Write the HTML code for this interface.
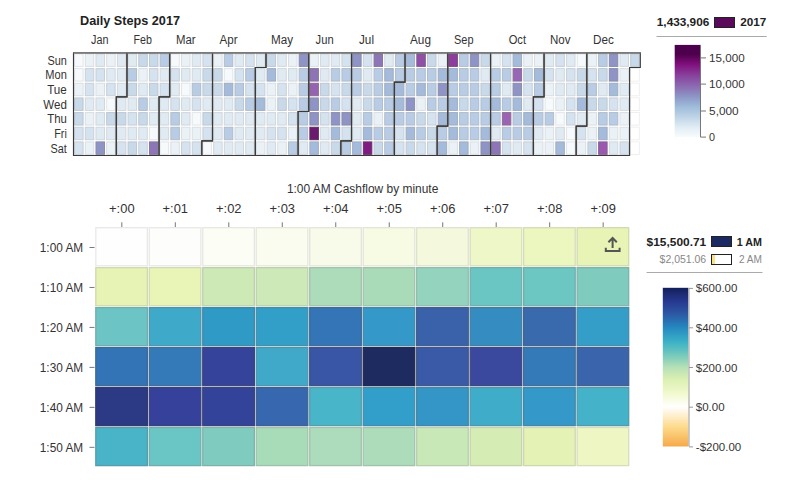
<!DOCTYPE html><html><head><meta charset="utf-8"><style>html,body{margin:0;padding:0;background:#fff;width:800px;height:494px;overflow:hidden}svg{display:block}text{font-family:"Liberation Sans",sans-serif}</style></head><body>
<svg width="800" height="494" viewBox="0 0 800 494">
<rect width="800" height="494" fill="#fff"/>
<text x="80" y="24.8" font-size="12.8" font-weight="bold" fill="#222" text-anchor="start" textLength="100" lengthAdjust="spacingAndGlyphs">Daily Steps 2017</text>
<text x="91" y="44" font-size="12.5" fill="#333" text-anchor="start" textLength="17.4" lengthAdjust="spacingAndGlyphs">Jan</text>
<text x="133.6" y="44" font-size="12.5" fill="#333" text-anchor="start" textLength="18.4" lengthAdjust="spacingAndGlyphs">Feb</text>
<text x="176" y="44" font-size="12.5" fill="#333" text-anchor="start" textLength="19.6" lengthAdjust="spacingAndGlyphs">Mar</text>
<text x="219.5" y="44" font-size="12.5" fill="#333" text-anchor="start" textLength="18.0" lengthAdjust="spacingAndGlyphs">Apr</text>
<text x="271" y="44" font-size="12.5" fill="#333" text-anchor="start" textLength="22" lengthAdjust="spacingAndGlyphs">May</text>
<text x="315.6" y="44" font-size="12.5" fill="#333" text-anchor="start" textLength="18.0" lengthAdjust="spacingAndGlyphs">Jun</text>
<text x="359" y="44" font-size="12.5" fill="#333" text-anchor="start" textLength="15" lengthAdjust="spacingAndGlyphs">Jul</text>
<text x="410" y="44" font-size="12.5" fill="#333" text-anchor="start" textLength="21" lengthAdjust="spacingAndGlyphs">Aug</text>
<text x="454" y="44" font-size="12.5" fill="#333" text-anchor="start" textLength="19.5" lengthAdjust="spacingAndGlyphs">Sep</text>
<text x="508.7" y="44" font-size="12.5" fill="#333" text-anchor="start" textLength="17.3" lengthAdjust="spacingAndGlyphs">Oct</text>
<text x="550" y="44" font-size="12.5" fill="#333" text-anchor="start" textLength="20.5" lengthAdjust="spacingAndGlyphs">Nov</text>
<text x="593" y="44" font-size="12.5" fill="#333" text-anchor="start" textLength="20.8" lengthAdjust="spacingAndGlyphs">Dec</text>
<text x="66.8" y="64.68" font-size="12.3" fill="#333" text-anchor="end" textLength="19.4" lengthAdjust="spacingAndGlyphs">Sun</text>
<text x="66.8" y="79.34" font-size="12.3" fill="#333" text-anchor="end" textLength="21.5" lengthAdjust="spacingAndGlyphs">Mon</text>
<text x="66.8" y="94.0" font-size="12.3" fill="#333" text-anchor="end" textLength="19.6" lengthAdjust="spacingAndGlyphs">Tue</text>
<text x="66.8" y="108.66" font-size="12.3" fill="#333" text-anchor="end" textLength="23.5" lengthAdjust="spacingAndGlyphs">Wed</text>
<text x="66.8" y="123.32" font-size="12.3" fill="#333" text-anchor="end" textLength="19.6" lengthAdjust="spacingAndGlyphs">Thu</text>
<text x="66.8" y="137.98" font-size="12.3" fill="#333" text-anchor="end" textLength="12.6" lengthAdjust="spacingAndGlyphs">Fri</text>
<text x="66.8" y="152.64000000000001" font-size="12.3" fill="#333" text-anchor="end" textLength="16.3" lengthAdjust="spacingAndGlyphs">Sat</text>
<rect x="74.60" y="53.95" width="8.49" height="12.46" fill="#f6fafc" stroke="#e3e5e6" stroke-width="1"/>
<rect x="74.60" y="68.61" width="8.49" height="12.46" fill="#f6fafc" stroke="#e3e5e6" stroke-width="1"/>
<rect x="74.60" y="83.27" width="8.49" height="12.46" fill="#ebf2f7" stroke="#dadee1" stroke-width="1"/>
<rect x="74.60" y="97.93" width="8.49" height="12.46" fill="#c8d9ea" stroke="#bec7d1" stroke-width="1"/>
<rect x="74.60" y="112.59" width="8.49" height="12.46" fill="#c8d9ea" stroke="#bec7d1" stroke-width="1"/>
<rect x="74.60" y="127.25" width="8.49" height="12.46" fill="#d5e2ef" stroke="#c8cfd7" stroke-width="1"/>
<rect x="74.60" y="141.91" width="8.49" height="12.46" fill="#d5e2ef" stroke="#c8cfd7" stroke-width="1"/>
<rect x="85.29" y="53.95" width="8.49" height="12.46" fill="#ebf2f7" stroke="#dadee1" stroke-width="1"/>
<rect x="85.29" y="68.61" width="8.49" height="12.46" fill="#d5e2ef" stroke="#c8cfd7" stroke-width="1"/>
<rect x="85.29" y="83.27" width="8.49" height="12.46" fill="#d5e2ef" stroke="#c8cfd7" stroke-width="1"/>
<rect x="85.29" y="97.93" width="8.49" height="12.46" fill="#e0eaf3" stroke="#d1d7dc" stroke-width="1"/>
<rect x="85.29" y="112.59" width="8.49" height="12.46" fill="#ebf2f7" stroke="#dadee1" stroke-width="1"/>
<rect x="85.29" y="127.25" width="8.49" height="12.46" fill="#d5e2ef" stroke="#c8cfd7" stroke-width="1"/>
<rect x="85.29" y="141.91" width="8.49" height="12.46" fill="#ebf2f7" stroke="#dadee1" stroke-width="1"/>
<rect x="95.99" y="53.95" width="8.49" height="12.46" fill="#e0eaf3" stroke="#d1d7dc" stroke-width="1"/>
<rect x="95.99" y="68.61" width="8.49" height="12.46" fill="#d5e2ef" stroke="#c8cfd7" stroke-width="1"/>
<rect x="95.99" y="83.27" width="8.49" height="12.46" fill="#ebf2f7" stroke="#dadee1" stroke-width="1"/>
<rect x="95.99" y="97.93" width="8.49" height="12.46" fill="#e0eaf3" stroke="#d1d7dc" stroke-width="1"/>
<rect x="95.99" y="112.59" width="8.49" height="12.46" fill="#e0eaf3" stroke="#d1d7dc" stroke-width="1"/>
<rect x="95.99" y="127.25" width="8.49" height="12.46" fill="#e0eaf3" stroke="#d1d7dc" stroke-width="1"/>
<rect x="95.99" y="141.91" width="8.49" height="12.46" fill="#8e94c6" stroke="#8a8da9" stroke-width="1"/>
<rect x="106.68" y="53.95" width="8.49" height="12.46" fill="#ebf2f7" stroke="#dadee1" stroke-width="1"/>
<rect x="106.68" y="68.61" width="8.49" height="12.46" fill="#e0eaf3" stroke="#d1d7dc" stroke-width="1"/>
<rect x="106.68" y="83.27" width="8.49" height="12.46" fill="#d5e2ef" stroke="#c8cfd7" stroke-width="1"/>
<rect x="106.68" y="97.93" width="8.49" height="12.46" fill="#f6fafc" stroke="#e3e5e6" stroke-width="1"/>
<rect x="106.68" y="112.59" width="8.49" height="12.46" fill="#c8d9ea" stroke="#bec7d1" stroke-width="1"/>
<rect x="106.68" y="127.25" width="8.49" height="12.46" fill="#e0eaf3" stroke="#d1d7dc" stroke-width="1"/>
<rect x="106.68" y="141.91" width="8.49" height="12.46" fill="#ebf2f7" stroke="#dadee1" stroke-width="1"/>
<rect x="117.38" y="53.95" width="8.49" height="12.46" fill="#e0eaf3" stroke="#d1d7dc" stroke-width="1"/>
<rect x="117.38" y="68.61" width="8.49" height="12.46" fill="#e0eaf3" stroke="#d1d7dc" stroke-width="1"/>
<rect x="117.38" y="83.27" width="8.49" height="12.46" fill="#e0eaf3" stroke="#d1d7dc" stroke-width="1"/>
<rect x="117.38" y="97.93" width="8.49" height="12.46" fill="#e0eaf3" stroke="#d1d7dc" stroke-width="1"/>
<rect x="117.38" y="112.59" width="8.49" height="12.46" fill="#c8d9ea" stroke="#bec7d1" stroke-width="1"/>
<rect x="117.38" y="127.25" width="8.49" height="12.46" fill="#e0eaf3" stroke="#d1d7dc" stroke-width="1"/>
<rect x="117.38" y="141.91" width="8.49" height="12.46" fill="#d5e2ef" stroke="#c8cfd7" stroke-width="1"/>
<rect x="128.07" y="53.95" width="8.49" height="12.46" fill="#e0eaf3" stroke="#d1d7dc" stroke-width="1"/>
<rect x="128.07" y="68.61" width="8.49" height="12.46" fill="#b8cde5" stroke="#b1bcca" stroke-width="1"/>
<rect x="128.07" y="83.27" width="8.49" height="12.46" fill="#c8d9ea" stroke="#bec7d1" stroke-width="1"/>
<rect x="128.07" y="97.93" width="8.49" height="12.46" fill="#e0eaf3" stroke="#d1d7dc" stroke-width="1"/>
<rect x="128.07" y="112.59" width="8.49" height="12.46" fill="#d5e2ef" stroke="#c8cfd7" stroke-width="1"/>
<rect x="128.07" y="127.25" width="8.49" height="12.46" fill="#e0eaf3" stroke="#d1d7dc" stroke-width="1"/>
<rect x="128.07" y="141.91" width="8.49" height="12.46" fill="#c8d9ea" stroke="#bec7d1" stroke-width="1"/>
<rect x="138.77" y="53.95" width="8.49" height="12.46" fill="#c8d9ea" stroke="#bec7d1" stroke-width="1"/>
<rect x="138.77" y="68.61" width="8.49" height="12.46" fill="#ebf2f7" stroke="#dadee1" stroke-width="1"/>
<rect x="138.77" y="83.27" width="8.49" height="12.46" fill="#e0eaf3" stroke="#d1d7dc" stroke-width="1"/>
<rect x="138.77" y="97.93" width="8.49" height="12.46" fill="#b8cde5" stroke="#b1bcca" stroke-width="1"/>
<rect x="138.77" y="112.59" width="8.49" height="12.46" fill="#c8d9ea" stroke="#bec7d1" stroke-width="1"/>
<rect x="138.77" y="127.25" width="8.49" height="12.46" fill="#e0eaf3" stroke="#d1d7dc" stroke-width="1"/>
<rect x="138.77" y="141.91" width="8.49" height="12.46" fill="#d5e2ef" stroke="#c8cfd7" stroke-width="1"/>
<rect x="149.46" y="53.95" width="8.49" height="12.46" fill="#c8d9ea" stroke="#bec7d1" stroke-width="1"/>
<rect x="149.46" y="68.61" width="8.49" height="12.46" fill="#d5e2ef" stroke="#c8cfd7" stroke-width="1"/>
<rect x="149.46" y="83.27" width="8.49" height="12.46" fill="#c8d9ea" stroke="#bec7d1" stroke-width="1"/>
<rect x="149.46" y="97.93" width="8.49" height="12.46" fill="#e0eaf3" stroke="#d1d7dc" stroke-width="1"/>
<rect x="149.46" y="112.59" width="8.49" height="12.46" fill="#e0eaf3" stroke="#d1d7dc" stroke-width="1"/>
<rect x="149.46" y="127.25" width="8.49" height="12.46" fill="#f6fafc" stroke="#e3e5e6" stroke-width="1"/>
<rect x="149.46" y="141.91" width="8.49" height="12.46" fill="#8d76b7" stroke="#84779b" stroke-width="1"/>
<rect x="160.15" y="53.95" width="8.49" height="12.46" fill="#b8cde5" stroke="#b1bcca" stroke-width="1"/>
<rect x="160.15" y="68.61" width="8.49" height="12.46" fill="#e0eaf3" stroke="#d1d7dc" stroke-width="1"/>
<rect x="160.15" y="83.27" width="8.49" height="12.46" fill="#d5e2ef" stroke="#c8cfd7" stroke-width="1"/>
<rect x="160.15" y="97.93" width="8.49" height="12.46" fill="#e0eaf3" stroke="#d1d7dc" stroke-width="1"/>
<rect x="160.15" y="112.59" width="8.49" height="12.46" fill="#e0eaf3" stroke="#d1d7dc" stroke-width="1"/>
<rect x="160.15" y="127.25" width="8.49" height="12.46" fill="#e0eaf3" stroke="#d1d7dc" stroke-width="1"/>
<rect x="160.15" y="141.91" width="8.49" height="12.46" fill="#f6fafc" stroke="#e3e5e6" stroke-width="1"/>
<rect x="170.85" y="53.95" width="8.49" height="12.46" fill="#f6fafc" stroke="#e3e5e6" stroke-width="1"/>
<rect x="170.85" y="68.61" width="8.49" height="12.46" fill="#d5e2ef" stroke="#c8cfd7" stroke-width="1"/>
<rect x="170.85" y="83.27" width="8.49" height="12.46" fill="#e0eaf3" stroke="#d1d7dc" stroke-width="1"/>
<rect x="170.85" y="97.93" width="8.49" height="12.46" fill="#d5e2ef" stroke="#c8cfd7" stroke-width="1"/>
<rect x="170.85" y="112.59" width="8.49" height="12.46" fill="#b8cde5" stroke="#b1bcca" stroke-width="1"/>
<rect x="170.85" y="127.25" width="8.49" height="12.46" fill="#b8cde5" stroke="#b1bcca" stroke-width="1"/>
<rect x="170.85" y="141.91" width="8.49" height="12.46" fill="#ebf2f7" stroke="#dadee1" stroke-width="1"/>
<rect x="181.54" y="53.95" width="8.49" height="12.46" fill="#ebf2f7" stroke="#dadee1" stroke-width="1"/>
<rect x="181.54" y="68.61" width="8.49" height="12.46" fill="#e0eaf3" stroke="#d1d7dc" stroke-width="1"/>
<rect x="181.54" y="83.27" width="8.49" height="12.46" fill="#f6fafc" stroke="#e3e5e6" stroke-width="1"/>
<rect x="181.54" y="97.93" width="8.49" height="12.46" fill="#e0eaf3" stroke="#d1d7dc" stroke-width="1"/>
<rect x="181.54" y="112.59" width="8.49" height="12.46" fill="#e0eaf3" stroke="#d1d7dc" stroke-width="1"/>
<rect x="181.54" y="127.25" width="8.49" height="12.46" fill="#ebf2f7" stroke="#dadee1" stroke-width="1"/>
<rect x="181.54" y="141.91" width="8.49" height="12.46" fill="#d5e2ef" stroke="#c8cfd7" stroke-width="1"/>
<rect x="192.24" y="53.95" width="8.49" height="12.46" fill="#e0eaf3" stroke="#d1d7dc" stroke-width="1"/>
<rect x="192.24" y="68.61" width="8.49" height="12.46" fill="#e0eaf3" stroke="#d1d7dc" stroke-width="1"/>
<rect x="192.24" y="83.27" width="8.49" height="12.46" fill="#b8cde5" stroke="#b1bcca" stroke-width="1"/>
<rect x="192.24" y="97.93" width="8.49" height="12.46" fill="#d5e2ef" stroke="#c8cfd7" stroke-width="1"/>
<rect x="192.24" y="112.59" width="8.49" height="12.46" fill="#f6fafc" stroke="#e3e5e6" stroke-width="1"/>
<rect x="192.24" y="127.25" width="8.49" height="12.46" fill="#ebf2f7" stroke="#dadee1" stroke-width="1"/>
<rect x="192.24" y="141.91" width="8.49" height="12.46" fill="#d5e2ef" stroke="#c8cfd7" stroke-width="1"/>
<rect x="202.93" y="53.95" width="8.49" height="12.46" fill="#d5e2ef" stroke="#c8cfd7" stroke-width="1"/>
<rect x="202.93" y="68.61" width="8.49" height="12.46" fill="#c8d9ea" stroke="#bec7d1" stroke-width="1"/>
<rect x="202.93" y="83.27" width="8.49" height="12.46" fill="#c8d9ea" stroke="#bec7d1" stroke-width="1"/>
<rect x="202.93" y="97.93" width="8.49" height="12.46" fill="#e0eaf3" stroke="#d1d7dc" stroke-width="1"/>
<rect x="202.93" y="112.59" width="8.49" height="12.46" fill="#c8d9ea" stroke="#bec7d1" stroke-width="1"/>
<rect x="202.93" y="127.25" width="8.49" height="12.46" fill="#d5e2ef" stroke="#c8cfd7" stroke-width="1"/>
<rect x="202.93" y="141.91" width="8.49" height="12.46" fill="#f6fafc" stroke="#e3e5e6" stroke-width="1"/>
<rect x="213.63" y="53.95" width="8.49" height="12.46" fill="#ebf2f7" stroke="#dadee1" stroke-width="1"/>
<rect x="213.63" y="68.61" width="8.49" height="12.46" fill="#c8d9ea" stroke="#bec7d1" stroke-width="1"/>
<rect x="213.63" y="83.27" width="8.49" height="12.46" fill="#c8d9ea" stroke="#bec7d1" stroke-width="1"/>
<rect x="213.63" y="97.93" width="8.49" height="12.46" fill="#e0eaf3" stroke="#d1d7dc" stroke-width="1"/>
<rect x="213.63" y="112.59" width="8.49" height="12.46" fill="#e0eaf3" stroke="#d1d7dc" stroke-width="1"/>
<rect x="213.63" y="127.25" width="8.49" height="12.46" fill="#e0eaf3" stroke="#d1d7dc" stroke-width="1"/>
<rect x="213.63" y="141.91" width="8.49" height="12.46" fill="#e0eaf3" stroke="#d1d7dc" stroke-width="1"/>
<rect x="224.32" y="53.95" width="8.49" height="12.46" fill="#b8cde5" stroke="#b1bcca" stroke-width="1"/>
<rect x="224.32" y="68.61" width="8.49" height="12.46" fill="#f6fafc" stroke="#e3e5e6" stroke-width="1"/>
<rect x="224.32" y="83.27" width="8.49" height="12.46" fill="#a4bbdc" stroke="#a0adbf" stroke-width="1"/>
<rect x="224.32" y="97.93" width="8.49" height="12.46" fill="#e0eaf3" stroke="#d1d7dc" stroke-width="1"/>
<rect x="224.32" y="112.59" width="8.49" height="12.46" fill="#e0eaf3" stroke="#d1d7dc" stroke-width="1"/>
<rect x="224.32" y="127.25" width="8.49" height="12.46" fill="#b8cde5" stroke="#b1bcca" stroke-width="1"/>
<rect x="224.32" y="141.91" width="8.49" height="12.46" fill="#e0eaf3" stroke="#d1d7dc" stroke-width="1"/>
<rect x="235.02" y="53.95" width="8.49" height="12.46" fill="#e0eaf3" stroke="#d1d7dc" stroke-width="1"/>
<rect x="235.02" y="68.61" width="8.49" height="12.46" fill="#d5e2ef" stroke="#c8cfd7" stroke-width="1"/>
<rect x="235.02" y="83.27" width="8.49" height="12.46" fill="#b8cde5" stroke="#b1bcca" stroke-width="1"/>
<rect x="235.02" y="97.93" width="8.49" height="12.46" fill="#c8d9ea" stroke="#bec7d1" stroke-width="1"/>
<rect x="235.02" y="112.59" width="8.49" height="12.46" fill="#e0eaf3" stroke="#d1d7dc" stroke-width="1"/>
<rect x="235.02" y="127.25" width="8.49" height="12.46" fill="#e0eaf3" stroke="#d1d7dc" stroke-width="1"/>
<rect x="235.02" y="141.91" width="8.49" height="12.46" fill="#e0eaf3" stroke="#d1d7dc" stroke-width="1"/>
<rect x="245.71" y="53.95" width="8.49" height="12.46" fill="#d5e2ef" stroke="#c8cfd7" stroke-width="1"/>
<rect x="245.71" y="68.61" width="8.49" height="12.46" fill="#b8cde5" stroke="#b1bcca" stroke-width="1"/>
<rect x="245.71" y="83.27" width="8.49" height="12.46" fill="#d5e2ef" stroke="#c8cfd7" stroke-width="1"/>
<rect x="245.71" y="97.93" width="8.49" height="12.46" fill="#b8cde5" stroke="#b1bcca" stroke-width="1"/>
<rect x="245.71" y="112.59" width="8.49" height="12.46" fill="#e0eaf3" stroke="#d1d7dc" stroke-width="1"/>
<rect x="245.71" y="127.25" width="8.49" height="12.46" fill="#e0eaf3" stroke="#d1d7dc" stroke-width="1"/>
<rect x="245.71" y="141.91" width="8.49" height="12.46" fill="#e0eaf3" stroke="#d1d7dc" stroke-width="1"/>
<rect x="256.40" y="53.95" width="8.49" height="12.46" fill="#e0eaf3" stroke="#d1d7dc" stroke-width="1"/>
<rect x="256.40" y="68.61" width="8.49" height="12.46" fill="#e0eaf3" stroke="#d1d7dc" stroke-width="1"/>
<rect x="256.40" y="83.27" width="8.49" height="12.46" fill="#d5e2ef" stroke="#c8cfd7" stroke-width="1"/>
<rect x="256.40" y="97.93" width="8.49" height="12.46" fill="#a4bbdc" stroke="#a0adbf" stroke-width="1"/>
<rect x="256.40" y="112.59" width="8.49" height="12.46" fill="#e0eaf3" stroke="#d1d7dc" stroke-width="1"/>
<rect x="256.40" y="127.25" width="8.49" height="12.46" fill="#e0eaf3" stroke="#d1d7dc" stroke-width="1"/>
<rect x="256.40" y="141.91" width="8.49" height="12.46" fill="#ebf2f7" stroke="#dadee1" stroke-width="1"/>
<rect x="267.10" y="53.95" width="8.49" height="12.46" fill="#c8d9ea" stroke="#bec7d1" stroke-width="1"/>
<rect x="267.10" y="68.61" width="8.49" height="12.46" fill="#a4bbdc" stroke="#a0adbf" stroke-width="1"/>
<rect x="267.10" y="83.27" width="8.49" height="12.46" fill="#ebf2f7" stroke="#dadee1" stroke-width="1"/>
<rect x="267.10" y="97.93" width="8.49" height="12.46" fill="#ebf2f7" stroke="#dadee1" stroke-width="1"/>
<rect x="267.10" y="112.59" width="8.49" height="12.46" fill="#e0eaf3" stroke="#d1d7dc" stroke-width="1"/>
<rect x="267.10" y="127.25" width="8.49" height="12.46" fill="#d5e2ef" stroke="#c8cfd7" stroke-width="1"/>
<rect x="267.10" y="141.91" width="8.49" height="12.46" fill="#e0eaf3" stroke="#d1d7dc" stroke-width="1"/>
<rect x="277.79" y="53.95" width="8.49" height="12.46" fill="#e0eaf3" stroke="#d1d7dc" stroke-width="1"/>
<rect x="277.79" y="68.61" width="8.49" height="12.46" fill="#e0eaf3" stroke="#d1d7dc" stroke-width="1"/>
<rect x="277.79" y="83.27" width="8.49" height="12.46" fill="#d5e2ef" stroke="#c8cfd7" stroke-width="1"/>
<rect x="277.79" y="97.93" width="8.49" height="12.46" fill="#c8d9ea" stroke="#bec7d1" stroke-width="1"/>
<rect x="277.79" y="112.59" width="8.49" height="12.46" fill="#e0eaf3" stroke="#d1d7dc" stroke-width="1"/>
<rect x="277.79" y="127.25" width="8.49" height="12.46" fill="#d5e2ef" stroke="#c8cfd7" stroke-width="1"/>
<rect x="277.79" y="141.91" width="8.49" height="12.46" fill="#ebf2f7" stroke="#dadee1" stroke-width="1"/>
<rect x="288.49" y="53.95" width="8.49" height="12.46" fill="#ebf2f7" stroke="#dadee1" stroke-width="1"/>
<rect x="288.49" y="68.61" width="8.49" height="12.46" fill="#e0eaf3" stroke="#d1d7dc" stroke-width="1"/>
<rect x="288.49" y="83.27" width="8.49" height="12.46" fill="#ebf2f7" stroke="#dadee1" stroke-width="1"/>
<rect x="288.49" y="97.93" width="8.49" height="12.46" fill="#d5e2ef" stroke="#c8cfd7" stroke-width="1"/>
<rect x="288.49" y="112.59" width="8.49" height="12.46" fill="#d5e2ef" stroke="#c8cfd7" stroke-width="1"/>
<rect x="288.49" y="127.25" width="8.49" height="12.46" fill="#ebf2f7" stroke="#dadee1" stroke-width="1"/>
<rect x="288.49" y="141.91" width="8.49" height="12.46" fill="#b8cde5" stroke="#b1bcca" stroke-width="1"/>
<rect x="299.18" y="53.95" width="8.49" height="12.46" fill="#8e94c6" stroke="#8a8da9" stroke-width="1"/>
<rect x="299.18" y="68.61" width="8.49" height="12.46" fill="#b8cde5" stroke="#b1bcca" stroke-width="1"/>
<rect x="299.18" y="83.27" width="8.49" height="12.46" fill="#b8cde5" stroke="#b1bcca" stroke-width="1"/>
<rect x="299.18" y="97.93" width="8.49" height="12.46" fill="#b8cde5" stroke="#b1bcca" stroke-width="1"/>
<rect x="299.18" y="112.59" width="8.49" height="12.46" fill="#b8cde5" stroke="#b1bcca" stroke-width="1"/>
<rect x="299.18" y="127.25" width="8.49" height="12.46" fill="#b8cde5" stroke="#b1bcca" stroke-width="1"/>
<rect x="299.18" y="141.91" width="8.49" height="12.46" fill="#e0eaf3" stroke="#d1d7dc" stroke-width="1"/>
<rect x="309.88" y="53.95" width="8.49" height="12.46" fill="#ebf2f7" stroke="#dadee1" stroke-width="1"/>
<rect x="309.88" y="68.61" width="8.49" height="12.46" fill="#8e73b6" stroke="#84759a" stroke-width="1"/>
<rect x="309.88" y="83.27" width="8.49" height="12.46" fill="#9663b0" stroke="#866a95" stroke-width="1"/>
<rect x="309.88" y="97.93" width="8.49" height="12.46" fill="#8e94c6" stroke="#8a8da9" stroke-width="1"/>
<rect x="309.88" y="112.59" width="8.49" height="12.46" fill="#8e94c6" stroke="#8a8da9" stroke-width="1"/>
<rect x="309.88" y="127.25" width="8.49" height="12.46" fill="#6c1a70" stroke="#592c5c" stroke-width="1"/>
<rect x="309.88" y="141.91" width="8.49" height="12.46" fill="#a4bbdc" stroke="#a0adbf" stroke-width="1"/>
<rect x="320.57" y="53.95" width="8.49" height="12.46" fill="#e0eaf3" stroke="#d1d7dc" stroke-width="1"/>
<rect x="320.57" y="68.61" width="8.49" height="12.46" fill="#e0eaf3" stroke="#d1d7dc" stroke-width="1"/>
<rect x="320.57" y="83.27" width="8.49" height="12.46" fill="#c8d9ea" stroke="#bec7d1" stroke-width="1"/>
<rect x="320.57" y="97.93" width="8.49" height="12.46" fill="#c8d9ea" stroke="#bec7d1" stroke-width="1"/>
<rect x="320.57" y="112.59" width="8.49" height="12.46" fill="#d5e2ef" stroke="#c8cfd7" stroke-width="1"/>
<rect x="320.57" y="127.25" width="8.49" height="12.46" fill="#e0eaf3" stroke="#d1d7dc" stroke-width="1"/>
<rect x="320.57" y="141.91" width="8.49" height="12.46" fill="#e0eaf3" stroke="#d1d7dc" stroke-width="1"/>
<rect x="331.26" y="53.95" width="8.49" height="12.46" fill="#e0eaf3" stroke="#d1d7dc" stroke-width="1"/>
<rect x="331.26" y="68.61" width="8.49" height="12.46" fill="#b8cde5" stroke="#b1bcca" stroke-width="1"/>
<rect x="331.26" y="83.27" width="8.49" height="12.46" fill="#d5e2ef" stroke="#c8cfd7" stroke-width="1"/>
<rect x="331.26" y="97.93" width="8.49" height="12.46" fill="#b8cde5" stroke="#b1bcca" stroke-width="1"/>
<rect x="331.26" y="112.59" width="8.49" height="12.46" fill="#8e94c6" stroke="#8a8da9" stroke-width="1"/>
<rect x="331.26" y="127.25" width="8.49" height="12.46" fill="#a4bbdc" stroke="#a0adbf" stroke-width="1"/>
<rect x="331.26" y="141.91" width="8.49" height="12.46" fill="#c8d9ea" stroke="#bec7d1" stroke-width="1"/>
<rect x="341.96" y="53.95" width="8.49" height="12.46" fill="#d5e2ef" stroke="#c8cfd7" stroke-width="1"/>
<rect x="341.96" y="68.61" width="8.49" height="12.46" fill="#b8cde5" stroke="#b1bcca" stroke-width="1"/>
<rect x="341.96" y="83.27" width="8.49" height="12.46" fill="#c8d9ea" stroke="#bec7d1" stroke-width="1"/>
<rect x="341.96" y="97.93" width="8.49" height="12.46" fill="#d5e2ef" stroke="#c8cfd7" stroke-width="1"/>
<rect x="341.96" y="112.59" width="8.49" height="12.46" fill="#8e94c6" stroke="#8a8da9" stroke-width="1"/>
<rect x="341.96" y="127.25" width="8.49" height="12.46" fill="#d5e2ef" stroke="#c8cfd7" stroke-width="1"/>
<rect x="341.96" y="141.91" width="8.49" height="12.46" fill="#b8cde5" stroke="#b1bcca" stroke-width="1"/>
<rect x="352.65" y="53.95" width="8.49" height="12.46" fill="#8e94c6" stroke="#8a8da9" stroke-width="1"/>
<rect x="352.65" y="68.61" width="8.49" height="12.46" fill="#b8cde5" stroke="#b1bcca" stroke-width="1"/>
<rect x="352.65" y="83.27" width="8.49" height="12.46" fill="#b8cde5" stroke="#b1bcca" stroke-width="1"/>
<rect x="352.65" y="97.93" width="8.49" height="12.46" fill="#e0eaf3" stroke="#d1d7dc" stroke-width="1"/>
<rect x="352.65" y="112.59" width="8.49" height="12.46" fill="#e0eaf3" stroke="#d1d7dc" stroke-width="1"/>
<rect x="352.65" y="127.25" width="8.49" height="12.46" fill="#e0eaf3" stroke="#d1d7dc" stroke-width="1"/>
<rect x="352.65" y="141.91" width="8.49" height="12.46" fill="#a4bbdc" stroke="#a0adbf" stroke-width="1"/>
<rect x="363.35" y="53.95" width="8.49" height="12.46" fill="#d5e2ef" stroke="#c8cfd7" stroke-width="1"/>
<rect x="363.35" y="68.61" width="8.49" height="12.46" fill="#e0eaf3" stroke="#d1d7dc" stroke-width="1"/>
<rect x="363.35" y="83.27" width="8.49" height="12.46" fill="#c8d9ea" stroke="#bec7d1" stroke-width="1"/>
<rect x="363.35" y="97.93" width="8.49" height="12.46" fill="#c8d9ea" stroke="#bec7d1" stroke-width="1"/>
<rect x="363.35" y="112.59" width="8.49" height="12.46" fill="#b8cde5" stroke="#b1bcca" stroke-width="1"/>
<rect x="363.35" y="127.25" width="8.49" height="12.46" fill="#a4bbdc" stroke="#a0adbf" stroke-width="1"/>
<rect x="363.35" y="141.91" width="8.49" height="12.46" fill="#7f1c82" stroke="#69326a" stroke-width="1"/>
<rect x="374.04" y="53.95" width="8.49" height="12.46" fill="#8d76b7" stroke="#84779b" stroke-width="1"/>
<rect x="374.04" y="68.61" width="8.49" height="12.46" fill="#b8cde5" stroke="#b1bcca" stroke-width="1"/>
<rect x="374.04" y="83.27" width="8.49" height="12.46" fill="#b8cde5" stroke="#b1bcca" stroke-width="1"/>
<rect x="374.04" y="97.93" width="8.49" height="12.46" fill="#b8cde5" stroke="#b1bcca" stroke-width="1"/>
<rect x="374.04" y="112.59" width="8.49" height="12.46" fill="#ebf2f7" stroke="#dadee1" stroke-width="1"/>
<rect x="374.04" y="127.25" width="8.49" height="12.46" fill="#b8cde5" stroke="#b1bcca" stroke-width="1"/>
<rect x="374.04" y="141.91" width="8.49" height="12.46" fill="#c8d9ea" stroke="#bec7d1" stroke-width="1"/>
<rect x="384.74" y="53.95" width="8.49" height="12.46" fill="#e0eaf3" stroke="#d1d7dc" stroke-width="1"/>
<rect x="384.74" y="68.61" width="8.49" height="12.46" fill="#a4bbdc" stroke="#a0adbf" stroke-width="1"/>
<rect x="384.74" y="83.27" width="8.49" height="12.46" fill="#a4bbdc" stroke="#a0adbf" stroke-width="1"/>
<rect x="384.74" y="97.93" width="8.49" height="12.46" fill="#b8cde5" stroke="#b1bcca" stroke-width="1"/>
<rect x="384.74" y="112.59" width="8.49" height="12.46" fill="#b8cde5" stroke="#b1bcca" stroke-width="1"/>
<rect x="384.74" y="127.25" width="8.49" height="12.46" fill="#b8cde5" stroke="#b1bcca" stroke-width="1"/>
<rect x="384.74" y="141.91" width="8.49" height="12.46" fill="#b8cde5" stroke="#b1bcca" stroke-width="1"/>
<rect x="395.43" y="53.95" width="8.49" height="12.46" fill="#b8cde5" stroke="#b1bcca" stroke-width="1"/>
<rect x="395.43" y="68.61" width="8.49" height="12.46" fill="#b8cde5" stroke="#b1bcca" stroke-width="1"/>
<rect x="395.43" y="83.27" width="8.49" height="12.46" fill="#a4bbdc" stroke="#a0adbf" stroke-width="1"/>
<rect x="395.43" y="97.93" width="8.49" height="12.46" fill="#a4bbdc" stroke="#a0adbf" stroke-width="1"/>
<rect x="395.43" y="112.59" width="8.49" height="12.46" fill="#b8cde5" stroke="#b1bcca" stroke-width="1"/>
<rect x="395.43" y="127.25" width="8.49" height="12.46" fill="#d5e2ef" stroke="#c8cfd7" stroke-width="1"/>
<rect x="395.43" y="141.91" width="8.49" height="12.46" fill="#d5e2ef" stroke="#c8cfd7" stroke-width="1"/>
<rect x="406.12" y="53.95" width="8.49" height="12.46" fill="#a4bbdc" stroke="#a0adbf" stroke-width="1"/>
<rect x="406.12" y="68.61" width="8.49" height="12.46" fill="#b8cde5" stroke="#b1bcca" stroke-width="1"/>
<rect x="406.12" y="83.27" width="8.49" height="12.46" fill="#b8cde5" stroke="#b1bcca" stroke-width="1"/>
<rect x="406.12" y="97.93" width="8.49" height="12.46" fill="#8e94c6" stroke="#8a8da9" stroke-width="1"/>
<rect x="406.12" y="112.59" width="8.49" height="12.46" fill="#b8cde5" stroke="#b1bcca" stroke-width="1"/>
<rect x="406.12" y="127.25" width="8.49" height="12.46" fill="#a4bbdc" stroke="#a0adbf" stroke-width="1"/>
<rect x="406.12" y="141.91" width="8.49" height="12.46" fill="#c8d9ea" stroke="#bec7d1" stroke-width="1"/>
<rect x="416.82" y="53.95" width="8.49" height="12.46" fill="#9050a8" stroke="#7f5c8c" stroke-width="1"/>
<rect x="416.82" y="68.61" width="8.49" height="12.46" fill="#b8cde5" stroke="#b1bcca" stroke-width="1"/>
<rect x="416.82" y="83.27" width="8.49" height="12.46" fill="#a4bbdc" stroke="#a0adbf" stroke-width="1"/>
<rect x="416.82" y="97.93" width="8.49" height="12.46" fill="#ebf2f7" stroke="#dadee1" stroke-width="1"/>
<rect x="416.82" y="112.59" width="8.49" height="12.46" fill="#c8d9ea" stroke="#bec7d1" stroke-width="1"/>
<rect x="416.82" y="127.25" width="8.49" height="12.46" fill="#b8cde5" stroke="#b1bcca" stroke-width="1"/>
<rect x="416.82" y="141.91" width="8.49" height="12.46" fill="#d5e2ef" stroke="#c8cfd7" stroke-width="1"/>
<rect x="427.51" y="53.95" width="8.49" height="12.46" fill="#c8d9ea" stroke="#bec7d1" stroke-width="1"/>
<rect x="427.51" y="68.61" width="8.49" height="12.46" fill="#b8cde5" stroke="#b1bcca" stroke-width="1"/>
<rect x="427.51" y="83.27" width="8.49" height="12.46" fill="#b8cde5" stroke="#b1bcca" stroke-width="1"/>
<rect x="427.51" y="97.93" width="8.49" height="12.46" fill="#b8cde5" stroke="#b1bcca" stroke-width="1"/>
<rect x="427.51" y="112.59" width="8.49" height="12.46" fill="#d5e2ef" stroke="#c8cfd7" stroke-width="1"/>
<rect x="427.51" y="127.25" width="8.49" height="12.46" fill="#c8d9ea" stroke="#bec7d1" stroke-width="1"/>
<rect x="427.51" y="141.91" width="8.49" height="12.46" fill="#d5e2ef" stroke="#c8cfd7" stroke-width="1"/>
<rect x="438.21" y="53.95" width="8.49" height="12.46" fill="#ebf2f7" stroke="#dadee1" stroke-width="1"/>
<rect x="438.21" y="68.61" width="8.49" height="12.46" fill="#a4bbdc" stroke="#a0adbf" stroke-width="1"/>
<rect x="438.21" y="83.27" width="8.49" height="12.46" fill="#8e94c6" stroke="#8a8da9" stroke-width="1"/>
<rect x="438.21" y="97.93" width="8.49" height="12.46" fill="#b8cde5" stroke="#b1bcca" stroke-width="1"/>
<rect x="438.21" y="112.59" width="8.49" height="12.46" fill="#a4bbdc" stroke="#a0adbf" stroke-width="1"/>
<rect x="438.21" y="127.25" width="8.49" height="12.46" fill="#b8cde5" stroke="#b1bcca" stroke-width="1"/>
<rect x="438.21" y="141.91" width="8.49" height="12.46" fill="#a4bbdc" stroke="#a0adbf" stroke-width="1"/>
<rect x="448.90" y="53.95" width="8.49" height="12.46" fill="#8e3c9e" stroke="#7a4d83" stroke-width="1"/>
<rect x="448.90" y="68.61" width="8.49" height="12.46" fill="#a4bbdc" stroke="#a0adbf" stroke-width="1"/>
<rect x="448.90" y="83.27" width="8.49" height="12.46" fill="#b8cde5" stroke="#b1bcca" stroke-width="1"/>
<rect x="448.90" y="97.93" width="8.49" height="12.46" fill="#a4bbdc" stroke="#a0adbf" stroke-width="1"/>
<rect x="448.90" y="112.59" width="8.49" height="12.46" fill="#a4bbdc" stroke="#a0adbf" stroke-width="1"/>
<rect x="448.90" y="127.25" width="8.49" height="12.46" fill="#a4bbdc" stroke="#a0adbf" stroke-width="1"/>
<rect x="448.90" y="141.91" width="8.49" height="12.46" fill="#ebf2f7" stroke="#dadee1" stroke-width="1"/>
<rect x="459.60" y="53.95" width="8.49" height="12.46" fill="#b8cde5" stroke="#b1bcca" stroke-width="1"/>
<rect x="459.60" y="68.61" width="8.49" height="12.46" fill="#b8cde5" stroke="#b1bcca" stroke-width="1"/>
<rect x="459.60" y="83.27" width="8.49" height="12.46" fill="#b8cde5" stroke="#b1bcca" stroke-width="1"/>
<rect x="459.60" y="97.93" width="8.49" height="12.46" fill="#c8d9ea" stroke="#bec7d1" stroke-width="1"/>
<rect x="459.60" y="112.59" width="8.49" height="12.46" fill="#b8cde5" stroke="#b1bcca" stroke-width="1"/>
<rect x="459.60" y="127.25" width="8.49" height="12.46" fill="#b8cde5" stroke="#b1bcca" stroke-width="1"/>
<rect x="459.60" y="141.91" width="8.49" height="12.46" fill="#a4bbdc" stroke="#a0adbf" stroke-width="1"/>
<rect x="470.29" y="53.95" width="8.49" height="12.46" fill="#8e94c6" stroke="#8a8da9" stroke-width="1"/>
<rect x="470.29" y="68.61" width="8.49" height="12.46" fill="#b8cde5" stroke="#b1bcca" stroke-width="1"/>
<rect x="470.29" y="83.27" width="8.49" height="12.46" fill="#b8cde5" stroke="#b1bcca" stroke-width="1"/>
<rect x="470.29" y="97.93" width="8.49" height="12.46" fill="#b8cde5" stroke="#b1bcca" stroke-width="1"/>
<rect x="470.29" y="112.59" width="8.49" height="12.46" fill="#b8cde5" stroke="#b1bcca" stroke-width="1"/>
<rect x="470.29" y="127.25" width="8.49" height="12.46" fill="#b8cde5" stroke="#b1bcca" stroke-width="1"/>
<rect x="470.29" y="141.91" width="8.49" height="12.46" fill="#ebf2f7" stroke="#dadee1" stroke-width="1"/>
<rect x="480.98" y="53.95" width="8.49" height="12.46" fill="#c8d9ea" stroke="#bec7d1" stroke-width="1"/>
<rect x="480.98" y="68.61" width="8.49" height="12.46" fill="#e0eaf3" stroke="#d1d7dc" stroke-width="1"/>
<rect x="480.98" y="83.27" width="8.49" height="12.46" fill="#c8d9ea" stroke="#bec7d1" stroke-width="1"/>
<rect x="480.98" y="97.93" width="8.49" height="12.46" fill="#b8cde5" stroke="#b1bcca" stroke-width="1"/>
<rect x="480.98" y="112.59" width="8.49" height="12.46" fill="#b8cde5" stroke="#b1bcca" stroke-width="1"/>
<rect x="480.98" y="127.25" width="8.49" height="12.46" fill="#a4bbdc" stroke="#a0adbf" stroke-width="1"/>
<rect x="480.98" y="141.91" width="8.49" height="12.46" fill="#8e94c6" stroke="#8a8da9" stroke-width="1"/>
<rect x="491.68" y="53.95" width="8.49" height="12.46" fill="#ebf2f7" stroke="#dadee1" stroke-width="1"/>
<rect x="491.68" y="68.61" width="8.49" height="12.46" fill="#b8cde5" stroke="#b1bcca" stroke-width="1"/>
<rect x="491.68" y="83.27" width="8.49" height="12.46" fill="#b8cde5" stroke="#b1bcca" stroke-width="1"/>
<rect x="491.68" y="97.93" width="8.49" height="12.46" fill="#a4bbdc" stroke="#a0adbf" stroke-width="1"/>
<rect x="491.68" y="112.59" width="8.49" height="12.46" fill="#b8cde5" stroke="#b1bcca" stroke-width="1"/>
<rect x="491.68" y="127.25" width="8.49" height="12.46" fill="#e0eaf3" stroke="#d1d7dc" stroke-width="1"/>
<rect x="491.68" y="141.91" width="8.49" height="12.46" fill="#8d76b7" stroke="#84779b" stroke-width="1"/>
<rect x="502.37" y="53.95" width="8.49" height="12.46" fill="#d5e2ef" stroke="#c8cfd7" stroke-width="1"/>
<rect x="502.37" y="68.61" width="8.49" height="12.46" fill="#b8cde5" stroke="#b1bcca" stroke-width="1"/>
<rect x="502.37" y="83.27" width="8.49" height="12.46" fill="#e0eaf3" stroke="#d1d7dc" stroke-width="1"/>
<rect x="502.37" y="97.93" width="8.49" height="12.46" fill="#b8cde5" stroke="#b1bcca" stroke-width="1"/>
<rect x="502.37" y="112.59" width="8.49" height="12.46" fill="#9a64b2" stroke="#8a6c97" stroke-width="1"/>
<rect x="502.37" y="127.25" width="8.49" height="12.46" fill="#b8cde5" stroke="#b1bcca" stroke-width="1"/>
<rect x="502.37" y="141.91" width="8.49" height="12.46" fill="#d5e2ef" stroke="#c8cfd7" stroke-width="1"/>
<rect x="513.07" y="53.95" width="8.49" height="12.46" fill="#a4bbdc" stroke="#a0adbf" stroke-width="1"/>
<rect x="513.07" y="68.61" width="8.49" height="12.46" fill="#9866b6" stroke="#896d99" stroke-width="1"/>
<rect x="513.07" y="83.27" width="8.49" height="12.46" fill="#8e94c6" stroke="#8a8da9" stroke-width="1"/>
<rect x="513.07" y="97.93" width="8.49" height="12.46" fill="#a4bbdc" stroke="#a0adbf" stroke-width="1"/>
<rect x="513.07" y="112.59" width="8.49" height="12.46" fill="#b8cde5" stroke="#b1bcca" stroke-width="1"/>
<rect x="513.07" y="127.25" width="8.49" height="12.46" fill="#b8cde5" stroke="#b1bcca" stroke-width="1"/>
<rect x="513.07" y="141.91" width="8.49" height="12.46" fill="#e0eaf3" stroke="#d1d7dc" stroke-width="1"/>
<rect x="523.76" y="53.95" width="8.49" height="12.46" fill="#ebf2f7" stroke="#dadee1" stroke-width="1"/>
<rect x="523.76" y="68.61" width="8.49" height="12.46" fill="#c8d9ea" stroke="#bec7d1" stroke-width="1"/>
<rect x="523.76" y="83.27" width="8.49" height="12.46" fill="#d5e2ef" stroke="#c8cfd7" stroke-width="1"/>
<rect x="523.76" y="97.93" width="8.49" height="12.46" fill="#e0eaf3" stroke="#d1d7dc" stroke-width="1"/>
<rect x="523.76" y="112.59" width="8.49" height="12.46" fill="#a4bbdc" stroke="#a0adbf" stroke-width="1"/>
<rect x="523.76" y="127.25" width="8.49" height="12.46" fill="#b8cde5" stroke="#b1bcca" stroke-width="1"/>
<rect x="523.76" y="141.91" width="8.49" height="12.46" fill="#d5e2ef" stroke="#c8cfd7" stroke-width="1"/>
<rect x="534.46" y="53.95" width="8.49" height="12.46" fill="#ebf2f7" stroke="#dadee1" stroke-width="1"/>
<rect x="534.46" y="68.61" width="8.49" height="12.46" fill="#a4bbdc" stroke="#a0adbf" stroke-width="1"/>
<rect x="534.46" y="83.27" width="8.49" height="12.46" fill="#b8cde5" stroke="#b1bcca" stroke-width="1"/>
<rect x="534.46" y="97.93" width="8.49" height="12.46" fill="#d5e2ef" stroke="#c8cfd7" stroke-width="1"/>
<rect x="534.46" y="112.59" width="8.49" height="12.46" fill="#b8cde5" stroke="#b1bcca" stroke-width="1"/>
<rect x="534.46" y="127.25" width="8.49" height="12.46" fill="#e0eaf3" stroke="#d1d7dc" stroke-width="1"/>
<rect x="534.46" y="141.91" width="8.49" height="12.46" fill="#ebf2f7" stroke="#dadee1" stroke-width="1"/>
<rect x="545.15" y="53.95" width="8.49" height="12.46" fill="#e0eaf3" stroke="#d1d7dc" stroke-width="1"/>
<rect x="545.15" y="68.61" width="8.49" height="12.46" fill="#d5e2ef" stroke="#c8cfd7" stroke-width="1"/>
<rect x="545.15" y="83.27" width="8.49" height="12.46" fill="#ebf2f7" stroke="#dadee1" stroke-width="1"/>
<rect x="545.15" y="97.93" width="8.49" height="12.46" fill="#f6fafc" stroke="#e3e5e6" stroke-width="1"/>
<rect x="545.15" y="112.59" width="8.49" height="12.46" fill="#b8cde5" stroke="#b1bcca" stroke-width="1"/>
<rect x="545.15" y="127.25" width="8.49" height="12.46" fill="#ebf2f7" stroke="#dadee1" stroke-width="1"/>
<rect x="545.15" y="141.91" width="8.49" height="12.46" fill="#ebf2f7" stroke="#dadee1" stroke-width="1"/>
<rect x="555.85" y="53.95" width="8.49" height="12.46" fill="#d5e2ef" stroke="#c8cfd7" stroke-width="1"/>
<rect x="555.85" y="68.61" width="8.49" height="12.46" fill="#e0eaf3" stroke="#d1d7dc" stroke-width="1"/>
<rect x="555.85" y="83.27" width="8.49" height="12.46" fill="#e0eaf3" stroke="#d1d7dc" stroke-width="1"/>
<rect x="555.85" y="97.93" width="8.49" height="12.46" fill="#ebf2f7" stroke="#dadee1" stroke-width="1"/>
<rect x="555.85" y="112.59" width="8.49" height="12.46" fill="#f6fafc" stroke="#e3e5e6" stroke-width="1"/>
<rect x="555.85" y="127.25" width="8.49" height="12.46" fill="#e0eaf3" stroke="#d1d7dc" stroke-width="1"/>
<rect x="555.85" y="141.91" width="8.49" height="12.46" fill="#a4bbdc" stroke="#a0adbf" stroke-width="1"/>
<rect x="566.54" y="53.95" width="8.49" height="12.46" fill="#e0eaf3" stroke="#d1d7dc" stroke-width="1"/>
<rect x="566.54" y="68.61" width="8.49" height="12.46" fill="#d5e2ef" stroke="#c8cfd7" stroke-width="1"/>
<rect x="566.54" y="83.27" width="8.49" height="12.46" fill="#e0eaf3" stroke="#d1d7dc" stroke-width="1"/>
<rect x="566.54" y="97.93" width="8.49" height="12.46" fill="#d5e2ef" stroke="#c8cfd7" stroke-width="1"/>
<rect x="566.54" y="112.59" width="8.49" height="12.46" fill="#d5e2ef" stroke="#c8cfd7" stroke-width="1"/>
<rect x="566.54" y="127.25" width="8.49" height="12.46" fill="#f6fafc" stroke="#e3e5e6" stroke-width="1"/>
<rect x="566.54" y="141.91" width="8.49" height="12.46" fill="#f6fafc" stroke="#e3e5e6" stroke-width="1"/>
<rect x="577.23" y="53.95" width="8.49" height="12.46" fill="#f6fafc" stroke="#e3e5e6" stroke-width="1"/>
<rect x="577.23" y="68.61" width="8.49" height="12.46" fill="#c8d9ea" stroke="#bec7d1" stroke-width="1"/>
<rect x="577.23" y="83.27" width="8.49" height="12.46" fill="#c8d9ea" stroke="#bec7d1" stroke-width="1"/>
<rect x="577.23" y="97.93" width="8.49" height="12.46" fill="#a4bbdc" stroke="#a0adbf" stroke-width="1"/>
<rect x="577.23" y="112.59" width="8.49" height="12.46" fill="#e0eaf3" stroke="#d1d7dc" stroke-width="1"/>
<rect x="577.23" y="127.25" width="8.49" height="12.46" fill="#d5e2ef" stroke="#c8cfd7" stroke-width="1"/>
<rect x="577.23" y="141.91" width="8.49" height="12.46" fill="#ebf2f7" stroke="#dadee1" stroke-width="1"/>
<rect x="587.93" y="53.95" width="8.49" height="12.46" fill="#ebf2f7" stroke="#dadee1" stroke-width="1"/>
<rect x="587.93" y="68.61" width="8.49" height="12.46" fill="#d5e2ef" stroke="#c8cfd7" stroke-width="1"/>
<rect x="587.93" y="83.27" width="8.49" height="12.46" fill="#b8cde5" stroke="#b1bcca" stroke-width="1"/>
<rect x="587.93" y="97.93" width="8.49" height="12.46" fill="#c8d9ea" stroke="#bec7d1" stroke-width="1"/>
<rect x="587.93" y="112.59" width="8.49" height="12.46" fill="#ebf2f7" stroke="#dadee1" stroke-width="1"/>
<rect x="587.93" y="127.25" width="8.49" height="12.46" fill="#ebf2f7" stroke="#dadee1" stroke-width="1"/>
<rect x="587.93" y="141.91" width="8.49" height="12.46" fill="#c8d9ea" stroke="#bec7d1" stroke-width="1"/>
<rect x="598.62" y="53.95" width="8.49" height="12.46" fill="#b8cde5" stroke="#b1bcca" stroke-width="1"/>
<rect x="598.62" y="68.61" width="8.49" height="12.46" fill="#c8d9ea" stroke="#bec7d1" stroke-width="1"/>
<rect x="598.62" y="83.27" width="8.49" height="12.46" fill="#e0eaf3" stroke="#d1d7dc" stroke-width="1"/>
<rect x="598.62" y="97.93" width="8.49" height="12.46" fill="#c8d9ea" stroke="#bec7d1" stroke-width="1"/>
<rect x="598.62" y="112.59" width="8.49" height="12.46" fill="#b8cde5" stroke="#b1bcca" stroke-width="1"/>
<rect x="598.62" y="127.25" width="8.49" height="12.46" fill="#a4bbdc" stroke="#a0adbf" stroke-width="1"/>
<rect x="598.62" y="141.91" width="8.49" height="12.46" fill="#9a58b0" stroke="#886394" stroke-width="1"/>
<rect x="609.32" y="53.95" width="8.49" height="12.46" fill="#8e94c6" stroke="#8a8da9" stroke-width="1"/>
<rect x="609.32" y="68.61" width="8.49" height="12.46" fill="#8e94c6" stroke="#8a8da9" stroke-width="1"/>
<rect x="609.32" y="83.27" width="8.49" height="12.46" fill="#a4bbdc" stroke="#a0adbf" stroke-width="1"/>
<rect x="609.32" y="97.93" width="8.49" height="12.46" fill="#d5e2ef" stroke="#c8cfd7" stroke-width="1"/>
<rect x="609.32" y="112.59" width="8.49" height="12.46" fill="#b8cde5" stroke="#b1bcca" stroke-width="1"/>
<rect x="609.32" y="127.25" width="8.49" height="12.46" fill="#ebf2f7" stroke="#dadee1" stroke-width="1"/>
<rect x="609.32" y="141.91" width="8.49" height="12.46" fill="#e0eaf3" stroke="#d1d7dc" stroke-width="1"/>
<rect x="620.01" y="53.95" width="8.49" height="12.46" fill="#e0eaf3" stroke="#d1d7dc" stroke-width="1"/>
<rect x="620.01" y="68.61" width="8.49" height="12.46" fill="#ebf2f7" stroke="#dadee1" stroke-width="1"/>
<rect x="620.01" y="83.27" width="8.49" height="12.46" fill="#e0eaf3" stroke="#d1d7dc" stroke-width="1"/>
<rect x="620.01" y="97.93" width="8.49" height="12.46" fill="#e0eaf3" stroke="#d1d7dc" stroke-width="1"/>
<rect x="620.01" y="112.59" width="8.49" height="12.46" fill="#ebf2f7" stroke="#dadee1" stroke-width="1"/>
<rect x="620.01" y="127.25" width="8.49" height="12.46" fill="#ebf2f7" stroke="#dadee1" stroke-width="1"/>
<rect x="620.01" y="141.91" width="8.49" height="12.46" fill="#d5e2ef" stroke="#c8cfd7" stroke-width="1"/>
<rect x="630.71" y="53.95" width="8.49" height="12.46" fill="#c8d9ea" stroke="#bec7d1" stroke-width="1"/>
<rect x="630.61" y="68.51" width="8.69" height="12.66" fill="#fff" stroke="#ececec" stroke-width="0.8"/>
<rect x="630.61" y="83.17" width="8.69" height="12.66" fill="#fff" stroke="#ececec" stroke-width="0.8"/>
<rect x="630.61" y="97.83" width="8.69" height="12.66" fill="#fff" stroke="#ececec" stroke-width="0.8"/>
<rect x="630.61" y="112.49" width="8.69" height="12.66" fill="#fff" stroke="#ececec" stroke-width="0.8"/>
<rect x="630.61" y="127.15" width="8.69" height="12.66" fill="#fff" stroke="#ececec" stroke-width="0.8"/>
<rect x="630.61" y="141.81" width="8.69" height="12.66" fill="#fff" stroke="#ececec" stroke-width="0.8"/>
<path d="M73.50,155.47 L73.50,52.85 L84.19,52.85 L84.19,52.85 L126.97,52.85 L126.97,96.83 L116.28,96.83 L116.28,155.47 Z" fill="none" stroke="#3a3a3a" stroke-width="1.15" stroke-linejoin="miter"/>
<path d="M116.28,155.47 L116.28,96.83 L126.97,96.83 L126.97,52.85 L169.75,52.85 L169.75,96.83 L159.05,96.83 L159.05,155.47 Z" fill="none" stroke="#3a3a3a" stroke-width="1.15" stroke-linejoin="miter"/>
<path d="M159.05,155.47 L159.05,96.83 L169.75,96.83 L169.75,52.85 L212.53,52.85 L212.53,140.81 L201.83,140.81 L201.83,155.47 Z" fill="none" stroke="#3a3a3a" stroke-width="1.15" stroke-linejoin="miter"/>
<path d="M201.83,155.47 L201.83,140.81 L212.53,140.81 L212.53,52.85 L266.00,52.85 L266.00,67.51 L255.30,67.51 L255.30,155.47 Z" fill="none" stroke="#3a3a3a" stroke-width="1.15" stroke-linejoin="miter"/>
<path d="M255.30,155.47 L255.30,67.51 L266.00,67.51 L266.00,52.85 L308.78,52.85 L308.78,111.49 L298.08,111.49 L298.08,155.47 Z" fill="none" stroke="#3a3a3a" stroke-width="1.15" stroke-linejoin="miter"/>
<path d="M298.08,155.47 L298.08,111.49 L308.78,111.49 L308.78,52.85 L351.55,52.85 L351.55,140.81 L340.86,140.81 L340.86,155.47 Z" fill="none" stroke="#3a3a3a" stroke-width="1.15" stroke-linejoin="miter"/>
<path d="M340.86,155.47 L340.86,140.81 L351.55,140.81 L351.55,52.85 L405.02,52.85 L405.02,82.17 L394.33,82.17 L394.33,155.47 Z" fill="none" stroke="#3a3a3a" stroke-width="1.15" stroke-linejoin="miter"/>
<path d="M394.33,155.47 L394.33,82.17 L405.02,82.17 L405.02,52.85 L447.80,52.85 L447.80,126.15 L437.11,126.15 L437.11,155.47 Z" fill="none" stroke="#3a3a3a" stroke-width="1.15" stroke-linejoin="miter"/>
<path d="M437.11,155.47 L437.11,126.15 L447.80,126.15 L447.80,52.85 L490.58,52.85 L490.58,155.47 L479.88,155.47 L479.88,155.47 Z" fill="none" stroke="#3a3a3a" stroke-width="1.15" stroke-linejoin="miter"/>
<path d="M490.58,155.47 L490.58,52.85 L501.27,52.85 L501.27,52.85 L544.05,52.85 L544.05,96.83 L533.36,96.83 L533.36,155.47 Z" fill="none" stroke="#3a3a3a" stroke-width="1.15" stroke-linejoin="miter"/>
<path d="M533.36,155.47 L533.36,96.83 L544.05,96.83 L544.05,52.85 L586.83,52.85 L586.83,126.15 L576.13,126.15 L576.13,155.47 Z" fill="none" stroke="#3a3a3a" stroke-width="1.15" stroke-linejoin="miter"/>
<path d="M576.13,155.47 L576.13,126.15 L586.83,126.15 L586.83,52.85 L640.30,52.85 L640.30,67.51 L629.61,67.51 L629.61,155.47 Z" fill="none" stroke="#3a3a3a" stroke-width="1.15" stroke-linejoin="miter"/>
<line x1="73.50" y1="52.85" x2="640.30" y2="52.85" stroke="#808080" stroke-width="1.3"/>
<text x="656.8" y="25.9" font-size="11.2" font-weight="bold" fill="#222" text-anchor="start" textLength="52.5" lengthAdjust="spacingAndGlyphs">1,433,906</text>
<rect x="714.5" y="17.5" width="20" height="10" fill="#5b0a5b" stroke="#222" stroke-width="1"/>
<text x="740.2" y="25.9" font-size="11.2" font-weight="bold" fill="#222" text-anchor="start" textLength="26.1" lengthAdjust="spacingAndGlyphs">2017</text>
<line x1="656.5" y1="36.5" x2="766.7" y2="36.5" stroke="#aaa" stroke-width="1"/>
<defs><linearGradient id="bupu" x1="0" y1="1" x2="0" y2="0"><stop offset="0" stop-color="#f7fcfd"/><stop offset="0.11" stop-color="#e0ecf4"/><stop offset="0.22" stop-color="#bfd3e6"/><stop offset="0.33" stop-color="#9ebcda"/><stop offset="0.44" stop-color="#8c96c6"/><stop offset="0.55" stop-color="#8c6bb1"/><stop offset="0.67" stop-color="#88419d"/><stop offset="0.79" stop-color="#810f7c"/><stop offset="0.9" stop-color="#4d004b"/><stop offset="1" stop-color="#4d004b"/></linearGradient><linearGradient id="ylgnbu" x1="0" y1="1" x2="0" y2="0"><stop offset="0" stop-color="#f6a94a"/><stop offset="0.12" stop-color="#fdd98a"/><stop offset="0.25" stop-color="#ffffff"/><stop offset="0.33" stop-color="#f3f9d0"/><stop offset="0.42" stop-color="#dcf0b2"/><stop offset="0.5" stop-color="#b5e0b6"/><stop offset="0.58" stop-color="#72c8bd"/><stop offset="0.66" stop-color="#3bb1c7"/><stop offset="0.75" stop-color="#2588bf"/><stop offset="0.83" stop-color="#2c5aa5"/><stop offset="0.91" stop-color="#273a91"/><stop offset="1" stop-color="#131f5c"/></linearGradient></defs>
<rect x="674.7" y="44.9" width="25.4" height="92.2" fill="url(#bupu)"/>
<path d="M700.5,44.9 V137.1 M700.5,57.9 H706 M700.5,84.1 H706 M700.5,111 H706 M700.5,137.1 H706" stroke="#777" stroke-width="1" fill="none"/>
<text x="709.1" y="62.0" font-size="10.8" fill="#333" text-anchor="start" textLength="35.6" lengthAdjust="spacingAndGlyphs">15,000</text>
<text x="709.1" y="88.19999999999999" font-size="10.8" fill="#333" text-anchor="start" textLength="35.6" lengthAdjust="spacingAndGlyphs">10,000</text>
<text x="709.1" y="115.1" font-size="10.8" fill="#333" text-anchor="start" textLength="29.5" lengthAdjust="spacingAndGlyphs">5,000</text>
<text x="709.1" y="141.2" font-size="10.8" fill="#333" text-anchor="start" textLength="6" lengthAdjust="spacingAndGlyphs">0</text>
<text x="362.6" y="193" font-size="12.3" fill="#333" text-anchor="middle" textLength="151.4" lengthAdjust="spacingAndGlyphs">1:00 AM Cashflow by minute</text>
<text x="121.83999999999999" y="212.9" font-size="12.3" fill="#333" text-anchor="middle" textLength="25.5" lengthAdjust="spacingAndGlyphs">+:00</text>
<line x1="121.84" y1="222.3" x2="121.84" y2="227" stroke="#666" stroke-width="0.9"/>
<text x="175.32" y="212.9" font-size="12.3" fill="#333" text-anchor="middle" textLength="25.5" lengthAdjust="spacingAndGlyphs">+:01</text>
<line x1="175.32" y1="222.3" x2="175.32" y2="227" stroke="#666" stroke-width="0.9"/>
<text x="228.79999999999998" y="212.9" font-size="12.3" fill="#333" text-anchor="middle" textLength="25.5" lengthAdjust="spacingAndGlyphs">+:02</text>
<line x1="228.80" y1="222.3" x2="228.80" y2="227" stroke="#666" stroke-width="0.9"/>
<text x="282.28" y="212.9" font-size="12.3" fill="#333" text-anchor="middle" textLength="25.5" lengthAdjust="spacingAndGlyphs">+:03</text>
<line x1="282.28" y1="222.3" x2="282.28" y2="227" stroke="#666" stroke-width="0.9"/>
<text x="335.76" y="212.9" font-size="12.3" fill="#333" text-anchor="middle" textLength="25.5" lengthAdjust="spacingAndGlyphs">+:04</text>
<line x1="335.76" y1="222.3" x2="335.76" y2="227" stroke="#666" stroke-width="0.9"/>
<text x="389.24" y="212.9" font-size="12.3" fill="#333" text-anchor="middle" textLength="25.5" lengthAdjust="spacingAndGlyphs">+:05</text>
<line x1="389.24" y1="222.3" x2="389.24" y2="227" stroke="#666" stroke-width="0.9"/>
<text x="442.72" y="212.9" font-size="12.3" fill="#333" text-anchor="middle" textLength="25.5" lengthAdjust="spacingAndGlyphs">+:06</text>
<line x1="442.72" y1="222.3" x2="442.72" y2="227" stroke="#666" stroke-width="0.9"/>
<text x="496.19999999999993" y="212.9" font-size="12.3" fill="#333" text-anchor="middle" textLength="25.5" lengthAdjust="spacingAndGlyphs">+:07</text>
<line x1="496.20" y1="222.3" x2="496.20" y2="227" stroke="#666" stroke-width="0.9"/>
<text x="549.68" y="212.9" font-size="12.3" fill="#333" text-anchor="middle" textLength="25.5" lengthAdjust="spacingAndGlyphs">+:08</text>
<line x1="549.68" y1="222.3" x2="549.68" y2="227" stroke="#666" stroke-width="0.9"/>
<text x="603.16" y="212.9" font-size="12.3" fill="#333" text-anchor="middle" textLength="25.5" lengthAdjust="spacingAndGlyphs">+:09</text>
<line x1="603.16" y1="222.3" x2="603.16" y2="227" stroke="#666" stroke-width="0.9"/>
<text x="83.2" y="251.78333333333336" font-size="12.3" fill="#333" text-anchor="end" textLength="43.4" lengthAdjust="spacingAndGlyphs">1:00 AM</text>
<line x1="89.5" y1="247.48" x2="94.5" y2="247.48" stroke="#666" stroke-width="0.9"/>
<text x="83.2" y="291.75" font-size="12.3" fill="#333" text-anchor="end" textLength="43.4" lengthAdjust="spacingAndGlyphs">1:10 AM</text>
<line x1="89.5" y1="287.45" x2="94.5" y2="287.45" stroke="#666" stroke-width="0.9"/>
<text x="83.2" y="331.7166666666667" font-size="12.3" fill="#333" text-anchor="end" textLength="43.4" lengthAdjust="spacingAndGlyphs">1:20 AM</text>
<line x1="89.5" y1="327.42" x2="94.5" y2="327.42" stroke="#666" stroke-width="0.9"/>
<text x="83.2" y="371.68333333333334" font-size="12.3" fill="#333" text-anchor="end" textLength="43.4" lengthAdjust="spacingAndGlyphs">1:30 AM</text>
<line x1="89.5" y1="367.38" x2="94.5" y2="367.38" stroke="#666" stroke-width="0.9"/>
<text x="83.2" y="411.65000000000003" font-size="12.3" fill="#333" text-anchor="end" textLength="43.4" lengthAdjust="spacingAndGlyphs">1:40 AM</text>
<line x1="89.5" y1="407.35" x2="94.5" y2="407.35" stroke="#666" stroke-width="0.9"/>
<text x="83.2" y="451.6166666666667" font-size="12.3" fill="#333" text-anchor="end" textLength="43.4" lengthAdjust="spacingAndGlyphs">1:50 AM</text>
<line x1="89.5" y1="447.32" x2="94.5" y2="447.32" stroke="#666" stroke-width="0.9"/>
<rect x="95.80" y="227.70" width="51.58" height="38.07" fill="#fefefe" stroke="#e9e9e9" stroke-width="1.3"/>
<rect x="149.28" y="227.70" width="51.58" height="38.07" fill="#fdfdfb" stroke="#e8e8e7" stroke-width="1.3"/>
<rect x="202.76" y="227.70" width="51.58" height="38.07" fill="#fcfdf5" stroke="#e7e7e2" stroke-width="1.3"/>
<rect x="256.24" y="227.70" width="51.58" height="38.07" fill="#fafcef" stroke="#e5e6de" stroke-width="1.3"/>
<rect x="309.72" y="227.70" width="51.58" height="38.07" fill="#f9fbea" stroke="#e3e5da" stroke-width="1.3"/>
<rect x="363.20" y="227.70" width="51.58" height="38.07" fill="#f8fbe4" stroke="#e2e4d5" stroke-width="1.3"/>
<rect x="416.68" y="227.70" width="51.58" height="38.07" fill="#f4f9de" stroke="#dee2d0" stroke-width="1.3"/>
<rect x="470.16" y="227.70" width="51.58" height="38.07" fill="#eef7c8" stroke="#d8debf" stroke-width="1.3"/>
<rect x="523.64" y="227.70" width="51.58" height="38.07" fill="#ecf6bf" stroke="#d5dcb8" stroke-width="1.3"/>
<rect x="577.12" y="227.70" width="51.58" height="38.07" fill="#e8f4b5" stroke="#d1d9b1" stroke-width="1.3"/>
<rect x="95.80" y="267.67" width="51.58" height="38.07" fill="#e6f3b4" stroke="#d0d8af" stroke-width="1.3"/>
<rect x="149.28" y="267.67" width="51.58" height="38.07" fill="#e9f5b7" stroke="#d2dab2" stroke-width="1.3"/>
<rect x="202.76" y="267.67" width="51.58" height="38.07" fill="#cde9b6" stroke="#bdcfae" stroke-width="1.3"/>
<rect x="256.24" y="267.67" width="51.58" height="38.07" fill="#cce9b7" stroke="#bccfae" stroke-width="1.3"/>
<rect x="309.72" y="267.67" width="51.58" height="38.07" fill="#acdcba" stroke="#a3c2ac" stroke-width="1.3"/>
<rect x="363.20" y="267.67" width="51.58" height="38.07" fill="#a9dbb8" stroke="#a1c1ab" stroke-width="1.3"/>
<rect x="416.68" y="267.67" width="51.58" height="38.07" fill="#94d4bf" stroke="#92bbad" stroke-width="1.3"/>
<rect x="470.16" y="267.67" width="51.58" height="38.07" fill="#6ac6c2" stroke="#72adaa" stroke-width="1.3"/>
<rect x="523.64" y="267.67" width="51.58" height="38.07" fill="#6cc7c3" stroke="#73aeab" stroke-width="1.3"/>
<rect x="577.12" y="267.67" width="51.58" height="38.07" fill="#7fcbbd" stroke="#81b2a9" stroke-width="1.3"/>
<rect x="95.80" y="307.63" width="51.58" height="38.07" fill="#6cc5c4" stroke="#73acac" stroke-width="1.3"/>
<rect x="149.28" y="307.63" width="51.58" height="38.07" fill="#3fa9c9" stroke="#5094a9" stroke-width="1.3"/>
<rect x="202.76" y="307.63" width="51.58" height="38.07" fill="#2f9ac5" stroke="#4287a3" stroke-width="1.3"/>
<rect x="256.24" y="307.63" width="51.58" height="38.07" fill="#329fc8" stroke="#458ca6" stroke-width="1.3"/>
<rect x="309.72" y="307.63" width="51.58" height="38.07" fill="#3375b6" stroke="#416b95" stroke-width="1.3"/>
<rect x="363.20" y="307.63" width="51.58" height="38.07" fill="#3498c8" stroke="#4687a5" stroke-width="1.3"/>
<rect x="416.68" y="307.63" width="51.58" height="38.07" fill="#3a62ab" stroke="#435d8c" stroke-width="1.3"/>
<rect x="470.16" y="307.63" width="51.58" height="38.07" fill="#348cc0" stroke="#447d9e" stroke-width="1.3"/>
<rect x="523.64" y="307.63" width="51.58" height="38.07" fill="#3a6aae" stroke="#44638f" stroke-width="1.3"/>
<rect x="577.12" y="307.63" width="51.58" height="38.07" fill="#349ec9" stroke="#478ba7" stroke-width="1.3"/>
<rect x="95.80" y="347.60" width="51.58" height="38.07" fill="#3274b6" stroke="#406a95" stroke-width="1.3"/>
<rect x="149.28" y="347.60" width="51.58" height="38.07" fill="#347ab8" stroke="#426f97" stroke-width="1.3"/>
<rect x="202.76" y="347.60" width="51.58" height="38.07" fill="#35449a" stroke="#3b457c" stroke-width="1.3"/>
<rect x="256.24" y="347.60" width="51.58" height="38.07" fill="#40a9c9" stroke="#5194a9" stroke-width="1.3"/>
<rect x="309.72" y="347.60" width="51.58" height="38.07" fill="#3955a5" stroke="#405286" stroke-width="1.3"/>
<rect x="363.20" y="347.60" width="51.58" height="38.07" fill="#1d2b60" stroke="#222b4d" stroke-width="1.3"/>
<rect x="416.68" y="347.60" width="51.58" height="38.07" fill="#3a5aa8" stroke="#425789" stroke-width="1.3"/>
<rect x="470.16" y="347.60" width="51.58" height="38.07" fill="#3a489e" stroke="#3f4880" stroke-width="1.3"/>
<rect x="523.64" y="347.60" width="51.58" height="38.07" fill="#347ab8" stroke="#426f97" stroke-width="1.3"/>
<rect x="577.12" y="347.60" width="51.58" height="38.07" fill="#3a65ac" stroke="#435f8d" stroke-width="1.3"/>
<rect x="95.80" y="387.57" width="51.58" height="38.07" fill="#2c3a85" stroke="#313a6b" stroke-width="1.3"/>
<rect x="149.28" y="387.57" width="51.58" height="38.07" fill="#35419a" stroke="#3b427c" stroke-width="1.3"/>
<rect x="202.76" y="387.57" width="51.58" height="38.07" fill="#34439a" stroke="#3a447c" stroke-width="1.3"/>
<rect x="256.24" y="387.57" width="51.58" height="38.07" fill="#3767ae" stroke="#41608e" stroke-width="1.3"/>
<rect x="309.72" y="387.57" width="51.58" height="38.07" fill="#48b5c9" stroke="#589eab" stroke-width="1.3"/>
<rect x="363.20" y="387.57" width="51.58" height="38.07" fill="#319fc9" stroke="#458ca7" stroke-width="1.3"/>
<rect x="416.68" y="387.57" width="51.58" height="38.07" fill="#3496c7" stroke="#4685a5" stroke-width="1.3"/>
<rect x="470.16" y="387.57" width="51.58" height="38.07" fill="#3fadc9" stroke="#5097a9" stroke-width="1.3"/>
<rect x="523.64" y="387.57" width="51.58" height="38.07" fill="#3498c8" stroke="#4687a5" stroke-width="1.3"/>
<rect x="577.12" y="387.57" width="51.58" height="38.07" fill="#44b2c9" stroke="#549baa" stroke-width="1.3"/>
<rect x="95.80" y="427.53" width="51.58" height="38.07" fill="#49b3c8" stroke="#589caa" stroke-width="1.3"/>
<rect x="149.28" y="427.53" width="51.58" height="38.07" fill="#6ac6c4" stroke="#72adac" stroke-width="1.3"/>
<rect x="202.76" y="427.53" width="51.58" height="38.07" fill="#7fcbbf" stroke="#81b2aa" stroke-width="1.3"/>
<rect x="256.24" y="427.53" width="51.58" height="38.07" fill="#a8dbb8" stroke="#a0c1ab" stroke-width="1.3"/>
<rect x="309.72" y="427.53" width="51.58" height="38.07" fill="#acdcbb" stroke="#a4c2ad" stroke-width="1.3"/>
<rect x="363.20" y="427.53" width="51.58" height="38.07" fill="#acdcb9" stroke="#a3c2ac" stroke-width="1.3"/>
<rect x="416.68" y="427.53" width="51.58" height="38.07" fill="#c8e8b8" stroke="#b9ceaf" stroke-width="1.3"/>
<rect x="470.16" y="427.53" width="51.58" height="38.07" fill="#d5edb4" stroke="#c3d2ad" stroke-width="1.3"/>
<rect x="523.64" y="427.53" width="51.58" height="38.07" fill="#e4f3b5" stroke="#ced8b0" stroke-width="1.3"/>
<rect x="577.12" y="427.53" width="51.58" height="38.07" fill="#eef7c4" stroke="#d7ddbc" stroke-width="1.3"/>
<path d="M612.6,248 V238.5 M608.4,242.2 L612.6,238 L616.8,242.2 M605.8,247.8 V251 H619.6 V247.8" stroke="#555" stroke-width="2" fill="none"/>
<text x="646.6" y="245.5" font-size="11.2" font-weight="bold" fill="#222" text-anchor="start" textLength="59.6" lengthAdjust="spacingAndGlyphs">$15,500.71</text>
<rect x="711.5" y="236.5" width="20" height="10" fill="#1b2a63" stroke="#222" stroke-width="1"/>
<text x="736.8" y="245.5" font-size="11.2" font-weight="bold" fill="#222" text-anchor="start" textLength="25.2" lengthAdjust="spacingAndGlyphs">1 AM</text>
<text x="659.6" y="262.5" font-size="11.2" fill="#888" text-anchor="start" textLength="46.6" lengthAdjust="spacingAndGlyphs">$2,051.06</text>
<rect x="711.5" y="254.5" width="20" height="10" fill="#fff" stroke="#222" stroke-width="1"/>
<rect x="712" y="255" width="3" height="9" fill="#fbe08a"/>
<text x="739" y="262.5" font-size="11.2" fill="#888" text-anchor="start" textLength="23" lengthAdjust="spacingAndGlyphs">2 AM</text>
<line x1="646.6" y1="272.5" x2="762.5" y2="272.5" stroke="#aaa" stroke-width="1"/>
<rect x="662.8" y="287.8" width="25.5" height="158.7" fill="url(#ylgnbu)"/>
<path d="M689,287.8 V446.5" stroke="#999" stroke-width="1" fill="none"/>
<line x1="689" y1="288.4" x2="693" y2="288.4" stroke="#999" stroke-width="1"/>
<text x="695.8" y="292.4" font-size="11.5" fill="#333" text-anchor="start">$600.00</text>
<line x1="689" y1="327.8" x2="693" y2="327.8" stroke="#999" stroke-width="1"/>
<text x="695.8" y="331.8" font-size="11.5" fill="#333" text-anchor="start">$400.00</text>
<line x1="689" y1="367.5" x2="693" y2="367.5" stroke="#999" stroke-width="1"/>
<text x="695.8" y="371.5" font-size="11.5" fill="#333" text-anchor="start">$200.00</text>
<line x1="689" y1="407.2" x2="693" y2="407.2" stroke="#999" stroke-width="1"/>
<text x="695.8" y="411.2" font-size="11.5" fill="#333" text-anchor="start">$0.00</text>
<line x1="689" y1="446.9" x2="693" y2="446.9" stroke="#999" stroke-width="1"/>
<text x="695.8" y="450.9" font-size="11.5" fill="#333" text-anchor="start">-$200.00</text>
</svg></body></html>
